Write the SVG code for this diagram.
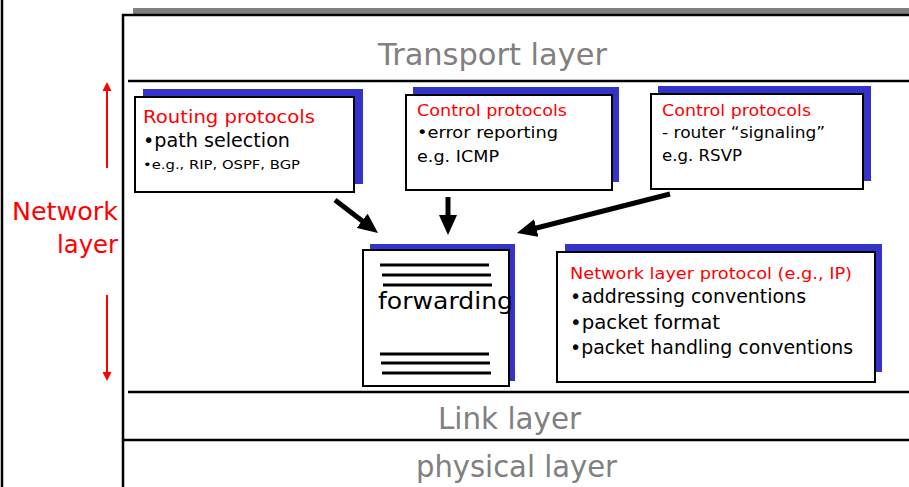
<svg xmlns="http://www.w3.org/2000/svg" width="909" height="487" viewBox="0 0 909 487">
<style>
text{font-family:"DejaVu Sans","Liberation Sans",sans-serif;}
.layer{fill:#808080;font-size:30px;}
.red{fill:#ff0000;}
.blk{fill:#000000;}
.shadow{fill:#3333cc;}
.box{fill:#ffffff;stroke:#000000;stroke-width:2;}
.frame{stroke:#000000;stroke-width:2.5;fill:none;}
.fl{stroke:#000000;stroke-width:3;}
.arrow{stroke:#000000;stroke-width:5;fill:none;}
.rarrow{stroke:#ff0000;stroke-width:2;fill:none;}
</style>
<defs>
<marker id="ah" markerUnits="userSpaceOnUse" markerWidth="20" markerHeight="18" refX="8" refY="9" orient="auto">
<path d="M0,0 L20,9 L0,18 z" fill="#000000"/>
</marker>
<marker id="rh" markerUnits="userSpaceOnUse" markerWidth="10" markerHeight="9" refX="3" refY="4.5" orient="auto">
<path d="M0,0 L9,4.5 L0,9 z" fill="#ff0000"/>
</marker>
</defs>
<rect width="909" height="487" fill="#ffffff"/>
<g id="frame">
<line class="frame" x1="2" y1="0" x2="2" y2="487"/>
<rect x="133" y="8" width="776" height="6" fill="#808080"/>
<line class="frame" x1="122" y1="15" x2="909" y2="15"/>
<line class="frame" x1="123" y1="14" x2="123" y2="487"/>
<line class="frame" x1="128" y1="81" x2="909" y2="81"/>
<line class="frame" x1="128" y1="392" x2="909" y2="392"/>
<line class="frame" x1="124" y1="440" x2="909" y2="440"/>
</g>
<g id="transport">
<text class="layer" x="378" y="65" textLength="229" lengthAdjust="spacingAndGlyphs">Transport layer</text>
</g>
<g id="link">
<text class="layer" x="438" y="429" textLength="143" lengthAdjust="spacingAndGlyphs">Link layer</text>
</g>
<g id="physical">
<text class="layer" x="416" y="477" textLength="201" lengthAdjust="spacingAndGlyphs">physical layer</text>
</g>
<g id="network-label">
<text class="red" font-size="25" x="12" y="220" textLength="106" lengthAdjust="spacingAndGlyphs">Network</text>
<text class="red" font-size="25" x="57" y="253" textLength="61" lengthAdjust="spacingAndGlyphs">layer</text>
</g>
<g id="routing">
<rect class="shadow" x="143" y="89" width="220" height="95"/>
<rect class="box" x="135" y="97" width="219" height="95"/>
<text class="red" font-size="18" x="143" y="123" textLength="172" lengthAdjust="spacingAndGlyphs">Routing protocols</text>
<text class="blk" font-size="19" x="143" y="147" textLength="147" lengthAdjust="spacingAndGlyphs">•path selection</text>
<text class="blk" font-size="13" x="143" y="169" textLength="157" lengthAdjust="spacingAndGlyphs">•e.g., RIP, OSPF, BGP</text>
</g>
<g id="control-icmp">
<rect class="shadow" x="413" y="87" width="206" height="95"/>
<rect class="box" x="406" y="95" width="206" height="95"/>
<text class="red" font-size="16" x="417" y="116" textLength="150" lengthAdjust="spacingAndGlyphs">Control protocols</text>
<text class="blk" font-size="16" x="417" y="138" textLength="141" lengthAdjust="spacingAndGlyphs">•error reporting</text>
<text class="blk" font-size="16" x="417" y="162" textLength="82" lengthAdjust="spacingAndGlyphs">e.g. ICMP</text>
</g>
<g id="control-rsvp">
<rect class="shadow" x="658" y="86" width="213" height="95"/>
<rect class="box" x="651" y="94" width="212" height="95"/>
<text class="red" font-size="16" x="662" y="116" textLength="149" lengthAdjust="spacingAndGlyphs">Control protocols</text>
<text class="blk" font-size="16" x="662" y="138" textLength="163" lengthAdjust="spacingAndGlyphs">- router “signaling”</text>
<text class="blk" font-size="16" x="662" y="161" textLength="80" lengthAdjust="spacingAndGlyphs">e.g. RSVP</text>
</g>
<g id="forwarding">
<rect class="shadow" x="370" y="244" width="145" height="137"/>
<rect class="box" x="363" y="250" width="146" height="136"/>
<line class="fl" x1="380" y1="265" x2="489" y2="265"/>
<line class="fl" x1="382" y1="275" x2="491" y2="275"/>
<line class="fl" x1="383" y1="285" x2="492" y2="285"/>
<line class="fl" x1="380" y1="354" x2="489" y2="354"/>
<line class="fl" x1="381" y1="363" x2="490" y2="363"/>
<line class="fl" x1="382" y1="373" x2="491" y2="373"/>
<text class="blk" font-size="23" x="378" y="309" textLength="135" lengthAdjust="spacingAndGlyphs">forwarding</text>
</g>
<g id="ip">
<rect class="shadow" x="565" y="244" width="317" height="128"/>
<rect class="box" x="557" y="252" width="318" height="130"/>
<text class="red" font-size="16" x="570" y="279" textLength="282" lengthAdjust="spacingAndGlyphs">Network layer protocol (e.g., IP)</text>
<text class="blk" font-size="19" x="570" y="303" textLength="236" lengthAdjust="spacingAndGlyphs">•addressing conventions</text>
<text class="blk" font-size="19" x="570" y="329" textLength="150" lengthAdjust="spacingAndGlyphs">•packet format</text>
<text class="blk" font-size="19" x="570" y="354" textLength="283" lengthAdjust="spacingAndGlyphs">•packet handling conventions</text>
</g>
<g id="connectors">
<line class="arrow" x1="335" y1="200" x2="368.5" y2="225.7" marker-end="url(#ah)"/>
<line class="arrow" x1="448" y1="197" x2="448" y2="223" marker-end="url(#ah)"/>
<line class="arrow" x1="670" y1="194" x2="528.6" y2="230" marker-end="url(#ah)"/>
<line class="rarrow" x1="107" y1="168" x2="107" y2="88" marker-end="url(#rh)"/>
<line class="rarrow" x1="107" y1="295" x2="107" y2="375" marker-end="url(#rh)"/>
</g>
</svg>
